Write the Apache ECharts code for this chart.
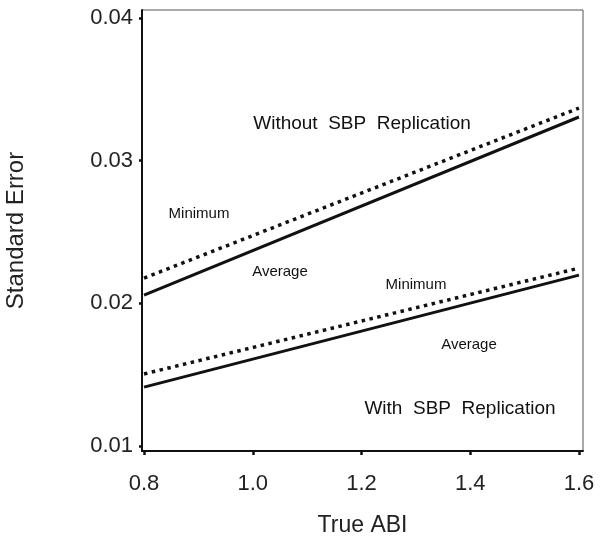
<!DOCTYPE html>
<html>
<head>
<meta charset="utf-8">
<script src="https://cdn.jsdelivr.net/npm/echarts@6/dist/echarts.min.js"></script>
<style>
  html, body { margin: 0; padding: 0; background: #fff; }
  #chart { width: 600px; height: 539px; }
</style>
</head>
<body>
<div id="chart"></div>
<script>
const trueAbi = [0.8, 1.6];
const withoutAverage = [0.02058, 0.03306];
const withoutMinimum = [0.02177, 0.03369];
const withAverage = [0.01413, 0.02198];
const withMinimum = [0.01505, 0.02247];
const xTicks = [0.8, 1.0, 1.2, 1.4, 1.6];
const yTicks = [0.01, 0.02, 0.03, 0.04];

const font = '"Liberation Sans", Arial, Helvetica, sans-serif';
const ink = '#111';

const chart = echarts.init(document.getElementById('chart'));

function pairs(xs, ys) {
  return xs.map((x, i) => [x, ys[i]]);
}

function lineSeries(name, ys, dotted) {
  return {
    name: name,
    type: 'line',
    data: pairs(trueAbi, ys),
    showSymbol: false,
    symbol: 'none',
    animation: false,
    lineStyle: {
      color: ink,
      width: dotted ? 3.5 : 3,
      type: dotted ? [3.5, 4.5] : 'solid',
      cap: 'butt'
    }
  };
}

function note(text, x, y, size) {
  return {
    type: 'text',
    x: x,
    y: y,
    style: {
      text: text,
      font: size + 'px ' + font,
      fill: ink,
      align: 'center',
      verticalAlign: 'middle'
    }
  };
}

const option = {
  backgroundColor: '#fff',
  animation: false,
  grid: {
    left: 142,
    right: 17,
    top: 10,
    bottom: 88,
    outerBoundsMode: 'none',
    show: true,
    borderColor: '#555',
    borderWidth: 1
  },
  xAxis: {
    type: 'value',
    min: 0.7963,
    max: 1.6074,
    name: 'True ABI',
    nameLocation: 'middle',
    nameGap: 63,
    nameTextStyle: { fontFamily: font, fontSize: 23, color: '#222' },
    splitLine: { show: false },
    axisLine: { show: true, lineStyle: { color: ink, width: 2 } },
    axisTick: {
      show: true,
      customValues: xTicks,
      length: 4,
      lineStyle: { color: ink, width: 2.5 }
    },
    axisLabel: {
      customValues: xTicks,
      margin: 22,
      fontFamily: font,
      fontSize: 22,
      color: '#222',
      formatter: v => v.toFixed(1)
    }
  },
  yAxis: {
    type: 'value',
    min: 0.00965,
    max: 0.04056,
    name: 'Standard Error',
    nameLocation: 'middle',
    nameGap: 114,
    nameTextStyle: { fontFamily: font, fontSize: 24, color: '#222' },
    splitLine: { show: false },
    axisLine: { show: true, lineStyle: { color: ink, width: 2 } },
    axisTick: {
      show: true,
      customValues: yTicks,
      length: 3,
      lineStyle: { color: ink, width: 2.5 }
    },
    axisLabel: {
      customValues: yTicks,
      margin: 9,
      fontFamily: font,
      fontSize: 22,
      color: '#222',
      formatter: v => v.toFixed(2)
    }
  },
  series: [
    lineSeries('Without SBP Replication - Average', withoutAverage, false),
    lineSeries('Without SBP Replication - Minimum', withoutMinimum, true),
    lineSeries('With SBP Replication - Average', withAverage, false),
    lineSeries('With SBP Replication - Minimum', withMinimum, true)
  ],
  graphic: [
    note('Without  SBP  Replication', 362, 124, 19),
    note('With  SBP  Replication', 460, 409, 19),
    note('Minimum', 199, 214, 15),
    note('Average', 280, 272, 15),
    note('Minimum', 416, 285, 15),
    note('Average', 469, 345, 15)
  ]
};

chart.setOption(option);
</script>
</body>
</html>
